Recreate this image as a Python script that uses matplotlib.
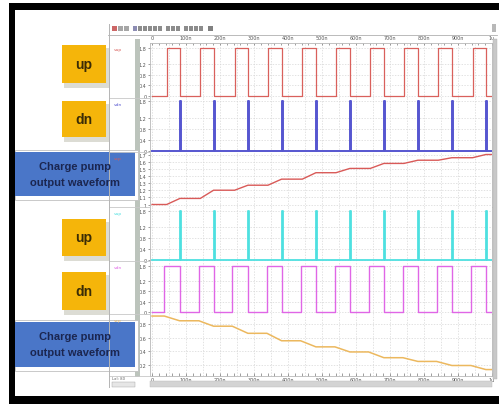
import numpy as np
import matplotlib.pyplot as plt
from matplotlib.patches import Rectangle
from matplotlib.lines import Line2D

W, H = 499, 406

# time axis (ns)
t_end = 1000
time_ticks = [0, 100, 200, 300, 400, 500, 600, 700, 800, 900, 1000]
time_labels = ['0', '100n', '200n', '300n', '400n', '500n', '600n', '700n', '800n', '900n', '1u']

# upper group: up = square, dn = short pulses, charge pump output rising
up1_rise = [43, 142, 243, 341, 442, 541, 642, 741, 842, 943]
up1_fall = [82, 181, 282, 381, 482, 582, 682, 782, 882, 982]
dn1_pulse = [82, 181, 282, 381, 482, 582, 682, 782, 882, 982]
cp1_levels = [1.0, 1.085, 1.20, 1.27, 1.355, 1.445, 1.505, 1.575, 1.62, 1.655, 1.70]

# lower group: up = short pulses, dn = square, charge pump output falling
up2_pulse = [81, 181, 282, 381, 482, 582, 682, 782, 882, 982]
dn2_rise = [36, 138, 236, 338, 437, 538, 637, 738, 837, 938]
dn2_fall = [81, 181, 282, 381, 482, 582, 682, 782, 882, 982]
cp2_levels = [0.92, 0.85, 0.77, 0.665, 0.555, 0.465, 0.39, 0.305, 0.25, 0.19, 0.13]

vhigh = 1.8
pulse_w = 4
dig_ticks = [0, 0.4, 0.8, 1.2, 1.8]
dig_labels = ['0', '0.4', '0.8', '1.2', '1.8']
cp1_ticks = [1.0, 1.1, 1.2, 1.3, 1.4, 1.5, 1.6, 1.7]
cp1_labels = ['1', '1.1', '1.2', '1.3', '1.4', '1.5', '1.6', '1.7']
cp2_ticks = [0.2, 0.4, 0.6, 0.8]
cp2_labels = ['0.2', '0.4', '0.6', '0.8']


def square(rise, fall):
    t, v = [0], [0]
    for r, f in zip(rise, fall):
        t += [r, r, f, f]
        v += [0, vhigh, vhigh, 0]
    return t + [t_end], v + [0]


def ramp(rise, fall, levels):
    t, v = [0], [levels[0]]
    for i, (r, f) in enumerate(zip(rise, fall)):
        t += [r, f]
        v += [levels[i], levels[i + 1]]
    return t + [t_end], v + [levels[-1]]


fig = plt.figure(figsize=(W / 100, H / 100), dpi=100)
fig.patch.set_facecolor('white')


def fbox(x0, y0, x1, y1):
    return [x0 / W, 1 - y1 / H, (x1 - x0) / W, (y1 - y0) / H]


def rect(x0, y0, x1, y1, **kw):
    r = Rectangle((x0 / W, 1 - y1 / H), (x1 - x0) / W, (y1 - y0) / H,
                  transform=fig.transFigure, **kw)
    fig.patches.append(r)


def hline(x0, x1, y, **kw):
    fig.lines.append(Line2D([x0 / W, x1 / W], [1 - y / H, 1 - y / H],
                            transform=fig.transFigure, **kw))


def vline(x, y0, y1, **kw):
    fig.lines.append(Line2D([x / W, x / W], [1 - y0 / H, 1 - y1 / H],
                            transform=fig.transFigure, **kw))


panels = [
    # top, bottom, ylim, ticks, labels, colour, width, name, curve
    (44, 99, (-0.075, 1.99), dig_ticks, dig_labels, '#d9605c', 0.9, 'vup', square(up1_rise, up1_fall)),
    (99, 153, (-0.04, 1.91), dig_ticks, dig_labels, '#5656d0', 1.4, 'vdn',
     square(dn1_pulse, [p + pulse_w for p in dn1_pulse])),
    (153, 208, (0.965, 1.735), cp1_ticks, cp1_labels, '#d95a58', 1.0, 'vcp',
     ramp(up1_rise, up1_fall, cp1_levels)),
    (208, 262, (-0.04, 1.95), dig_ticks, dig_labels, '#4ee0e0', 1.3, 'vup',
     square(up2_pulse, [p + pulse_w for p in up2_pulse])),
    (262, 315, (-0.08, 1.99), dig_ticks, dig_labels, '#e066e6', 1.0, 'vdn', square(dn2_rise, dn2_fall)),
    (315, 377, (0.035, 0.95), cp2_ticks, cp2_labels, '#ecb85e', 1.1, 'vcp',
     ramp(dn2_rise, dn2_fall, cp2_levels)),
]

grid_kw = dict(color='#d6d6d6', lw=0.5, ls=(0, (2, 2)), zorder=0)
axes = []
for i, (top, bot, ylim, yt, yl, col, lw, name, (t, v)) in enumerate(panels):
    ax = fig.add_axes(fbox(150, top, 492, bot))
    for gx in np.arange(0, t_end, 50):
        ax.axvline(gx, **grid_kw)
    for gy in yt:
        ax.axhline(gy, **grid_kw)
    ax.plot(t, v, color=col, lw=lw, zorder=3)
    ax.set_xlim(-6, t_end)
    ax.set_ylim(*ylim)
    ax.set_yticks(yt)
    ax.set_yticklabels(yl)
    ax.set_xticks(time_ticks)
    ax.set_xticks(np.arange(0, t_end, 20), minor=True)
    ax.tick_params(axis='y', labelsize=3.5, length=1.5, width=0.4, pad=1, colors='#555555')
    ax.tick_params(axis='x', which='both', bottom=False, top=False, labelbottom=False,
                   labelsize=3.5, colors='#555555', width=0.4)
    for s in ax.spines.values():
        s.set_color('#b8b8b8')
        s.set_linewidth(0.6)
    ax.spines['top'].set_visible(i == 0)
    fig.text(114 / W, 1 - (top + 6) / H, name, color=col, fontsize=3.2, va='center')
    hline(109, 150, bot, color='#c8c8c8', lw=0.6)
    axes.append(ax)

# time scale, top and bottom
axes[0].tick_params(axis='x', which='both', top=True, labeltop=True, direction='in',
                    length=1.5, pad=2.5)
axes[-1].tick_params(axis='x', which='both', bottom=True, labelbottom=True, direction='in',
                     length=2, pad=0.5)
axes[0].set_xticklabels(time_labels)
axes[-1].set_xticklabels(time_labels)

# viewer chrome
hline(108, 497, 36, color='#b0b0b0', lw=0.6)
vline(109, 25, 388, color='#b4b4b4', lw=0.7)
rect(135, 40, 139.5, 378, facecolor='#bcc4bc', edgecolor='none')
rect(493, 40, 497, 380, facecolor='#c8c8c8', edgecolor='#b0b0b0', lw=0.3)
rect(150, 382, 492, 388, facecolor='#d4d4d4', edgecolor='#b8b8b8', lw=0.3)
rect(112, 383, 135, 388, facecolor='#e6e6e6', edgecolor='#a0a0a0', lw=0.3)
fig.text(112 / W, 1 - 379 / H, 'Lal: 80', fontsize=2.8, color='#666666', va='center')
rect(492, 25, 496, 33, facecolor='#b8b8b8', edgecolor='none')
for x0, x1, c in [(112, 117, '#c04040'), (118, 123, '#909090'), (124, 129, '#909090'),
                  (133, 137, '#7070a0'), (138, 142, '#707070'), (143, 147, '#707070'),
                  (148, 152, '#707070'), (153, 157, '#707070'), (158, 162, '#707070'),
                  (166, 170, '#707070'), (171, 175, '#707070'), (176, 180, '#707070'),
                  (184, 188, '#707070'), (189, 193, '#707070'), (194, 198, '#707070'),
                  (199, 203, '#707070'), (208, 213, '#606060')]:
    rect(x0, 27, x1, 32, facecolor=c, edgecolor='none', alpha=0.8)

# label boxes
yellow = '#f5b50a'
for y0, y1, txt in [(46, 84, 'up'), (102, 138, 'dn'), (220, 257, 'up'), (273, 311, 'dn')]:
    rect(64, y0 + 3, 109, y1 + 5, facecolor='#dcdcd4', edgecolor='none')
    rect(62, y0, 106, y1, facecolor=yellow, edgecolor='none')
    fig.text(84 / W, 1 - (y0 + y1) / 2 / H, txt, ha='center', va='center', fontsize=10,
             fontweight='bold', color='#3a2c06', family='Liberation Sans')

blue = '#4a76c8'
for y0, y1 in [(153, 197), (323, 368)]:
    rect(15, y0 - 2, 138, y1 + 4, facecolor='white', edgecolor='#c0c0c0', lw=0.6)
    rect(15, y0, 135, y1, facecolor=blue, edgecolor='none')
    yc = (y0 + y1) / 2
    fig.text(75 / W, 1 - (yc - 8) / H, 'Charge pump', ha='center', va='center', fontsize=8,
             fontweight='bold', color='#1b2650', family='Liberation Sans')
    fig.text(75 / W, 1 - (yc + 8) / H, 'output waveform', ha='center', va='center', fontsize=8,
             fontweight='bold', color='#1b2650', family='Liberation Sans')

# black photo frame
rect(9, 4, 499, 11, facecolor='black', edgecolor='none')
rect(9, 4, 15, 405, facecolor='black', edgecolor='none')
rect(9, 397, 499, 405, facecolor='black', edgecolor='none')

fig.savefig('out.png', dpi=100)
